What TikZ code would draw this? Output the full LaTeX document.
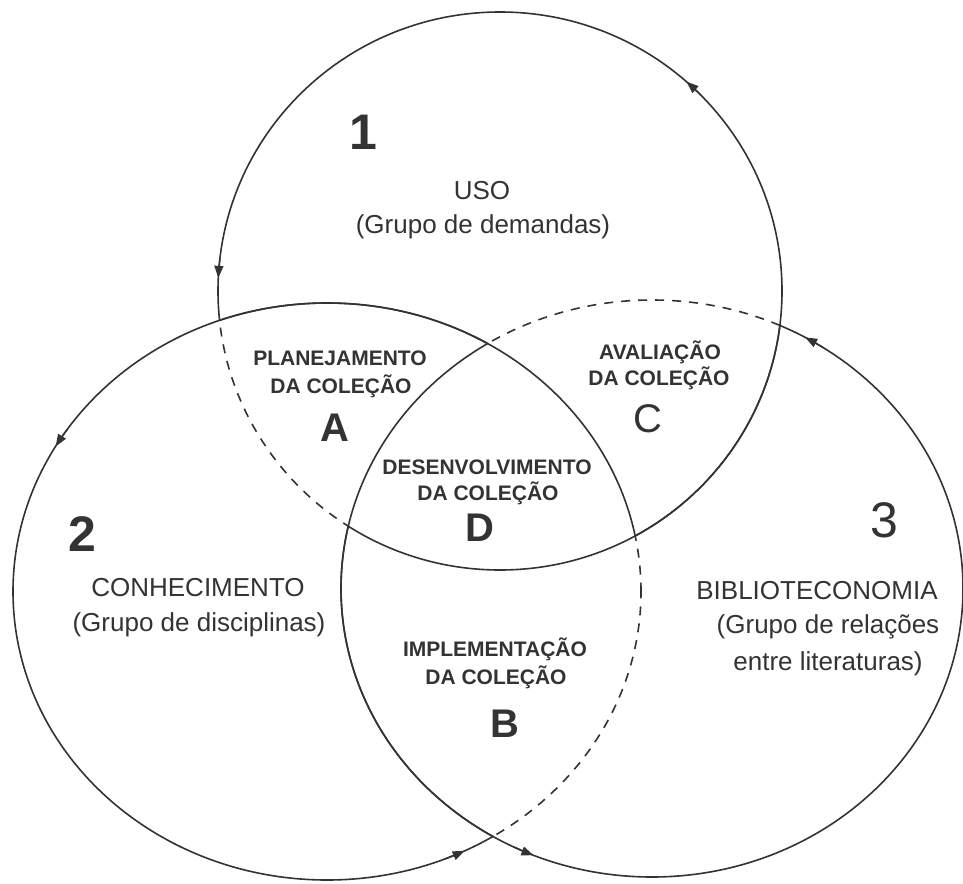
\documentclass[tikz,border=0pt]{standalone}
\usepackage{fontspec}
\setmainfont{Liberation Sans}
\usetikzlibrary{arrows.meta}
\definecolor{ink}{HTML}{333333}
\begin{document}
\begin{tikzpicture}[x=1pt,y=1pt,
  ring/.style={draw=ink,line width=1.6pt},
  dashring/.style={ring,dash pattern=on 9pt off 8pt},
  tipmark/.style={draw=ink,line width=1.4pt,-{Triangle[length=12pt,width=9pt]}},
  lbl/.style={text=ink,inner sep=0pt,anchor=base},
  big/.style={lbl,font=\fontsize{26}{30}\selectfont},
  small/.style={lbl,font=\fontsize{21}{25}\selectfont\bfseries},
  letterb/.style={lbl,font=\fontsize{40}{44}\selectfont\bfseries},
  letterr/.style={lbl,font=\fontsize{40}{44}\selectfont},
  numb/.style={lbl,font=\fontsize{50}{54}\selectfont\bfseries},
  numr/.style={lbl,font=\fontsize{50}{54}\selectfont},
]
\useasboundingbox[fill=white] (0,0) rectangle (963,-883);

% ---------- circle 1 (top) ----------
\begin{scope}
  \clip (-50,-933) rectangle (1013,50) (327,-591.5) ellipse [x radius=314, y radius=288.5];
  \draw[ring] (500,-291) ellipse [x radius=282, y radius=279];
\end{scope}
\begin{scope}
  \clip (652,-588.5) ellipse [x radius=311, y radius=288.5];
  \draw[ring] (500,-291) ellipse [x radius=282, y radius=279];
\end{scope}
\begin{scope}
  \clip (327,-591.5) ellipse [x radius=314, y radius=288.5];
  \clip (-50,-933) rectangle (1013,50) (652,-588.5) ellipse [x radius=311, y radius=288.5];
  \draw[dashring] (500,-291) ellipse [x radius=282, y radius=279];
\end{scope}

% ---------- circle 2 (left) ----------
\begin{scope}
  \clip (-50,-933) rectangle (1013,50) (652,-588.5) ellipse [x radius=311, y radius=288.5];
  \draw[ring] (327,-591.5) ellipse [x radius=314, y radius=288.5];
\end{scope}
\begin{scope}
  \clip (500,-291) ellipse [x radius=282, y radius=279];
  \draw[ring] (327,-591.5) ellipse [x radius=314, y radius=288.5];
\end{scope}
\begin{scope}
  \clip (652,-588.5) ellipse [x radius=311, y radius=288.5];
  \clip (-50,-933) rectangle (1013,50) (500,-291) ellipse [x radius=282, y radius=279];
  \draw[dashring] (327,-591.5) ellipse [x radius=314, y radius=288.5];
\end{scope}

% ---------- circle 3 (right) ----------
\begin{scope}
  \clip (-50,-933) rectangle (1013,50) (500,-291) ellipse [x radius=282, y radius=279];
  \draw[ring] (652,-588.5) ellipse [x radius=311, y radius=288.5];
\end{scope}
\begin{scope}
  \clip (327,-591.5) ellipse [x radius=314, y radius=288.5];
  \draw[ring] (652,-588.5) ellipse [x radius=311, y radius=288.5];
\end{scope}
\begin{scope}
  \clip (500,-291) ellipse [x radius=282, y radius=279];
  \clip (-50,-933) rectangle (1013,50) (327,-591.5) ellipse [x radius=314, y radius=288.5];
  \draw[dashring] (652,-588.5) ellipse [x radius=311, y radius=288.5];
\end{scope}

% ---------- arrowheads (counter-clockwise) ----------
\draw[tipmark] (500,-291) ++(44.6:282 and 279) arc[start angle=44.6, end angle=48.6, x radius=282, y radius=279];
\draw[tipmark] (500,-291) ++(173.3:282 and 279) arc[start angle=173.3, end angle=177.3, x radius=282, y radius=279];
\draw[tipmark] (327,-591.5) ++(145.8:314 and 288.5) arc[start angle=145.8, end angle=149.8, x radius=314, y radius=288.5];
\draw[tipmark] (327,-591.5) ++(292:314 and 288.5) arc[start angle=292, end angle=296, x radius=314, y radius=288.5];
\draw[tipmark] (652,-588.5) ++(56.5:311 and 288.5) arc[start angle=56.5, end angle=60.5, x radius=311, y radius=288.5];
\draw[tipmark] (652,-588.5) ++(243.6:311 and 288.5) arc[start angle=243.6, end angle=247.6, x radius=311, y radius=288.5];

% ---------- labels ----------
\node[numb] (n1) at (363,-149) {1};
\node[big] (uso) at (482,-199.3) {USO};
\node[big] (usod) at (483,-233.5) {(Grupo de demandas)};

\node[numb] (n2) at (82,-551) {2};
\node[big] (con) at (198,-596.3) {CONHECIMENTO};
\node[big] (cond) at (199,-631.5) {(Grupo de disciplinas)};

\node[numr] (n3) at (884,-537) {3};
\node[big] (bib) at (817,-599.3) {BIBLIOTECONOMIA};
\node[big] (bibd1) at (828,-633.5) {(Grupo de relações};
\node[big] (bibd2) at (828,-670.5) {entre literaturas)};

\node[small] (pl1) at (340,-365.5) {PLANEJAMENTO};
\node[small] (pl2) at (341,-393.5) {DA COLEÇÃO};
\node[letterb] (la) at (335,-441.3) {A};

\node[small] (av1) at (660,-359.5) {AVALIAÇÃO};
\node[small] (av2) at (659,-385.5) {DA COLEÇÃO};
\node[letterr] (lc) at (648,-432.3) {C};

\node[small] (de1) at (487,-474.5) {DESENVOLVIMENTO};
\node[small] (de2) at (488,-500.5) {DA COLEÇÃO};
\node[letterb] (ld) at (480,-541.3) {D};

\node[small] (im1) at (495,-656.5) {IMPLEMENTAÇÃO};
\node[small] (im2) at (496,-684.5) {DA COLEÇÃO};
\node[letterb] (lb) at (505,-737.3) {B};
\end{tikzpicture}
\end{document}
